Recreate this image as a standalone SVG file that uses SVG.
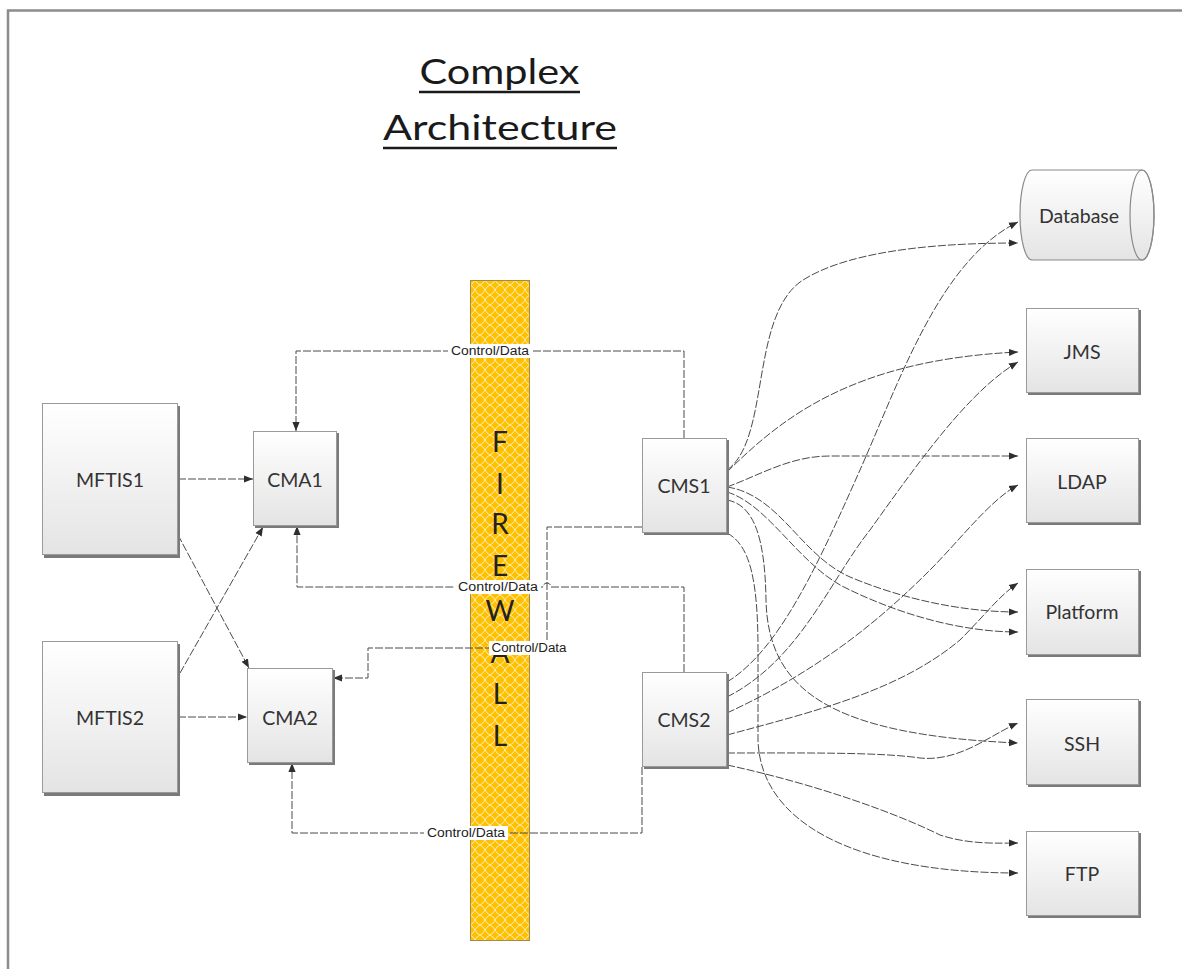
<svg xmlns="http://www.w3.org/2000/svg" width="1182" height="969" viewBox="0 0 1182 969">
  <style>
    .box { fill: url(#boxFill); stroke: #9a9a9a; stroke-width: 1; }
    .shadow { fill: #7a7a7a; }
    .lbl { font-family: Lato, "Liberation Sans", sans-serif; font-size: 19.5px; fill: #333333; text-anchor: middle; dominant-baseline: central; }
    .conn path { fill: none; stroke: #4a4a4a; stroke-width: 1; stroke-dasharray: 8 2; }
    .conn path.arrow { marker-end: url(#ah); }
    .tag rect { fill: #ffffff; }
    .tag text { font-family: "Liberation Sans", sans-serif; font-size: 12.5px; fill: #222; text-anchor: middle; dominant-baseline: central; }
    .fw { font-family: Lato, "Liberation Sans", sans-serif; font-size: 28px; fill: #222222; text-anchor: middle; }
    .title { font-family: Lato, "Liberation Sans", sans-serif; font-size: 35px; fill: #1a1a1a; text-anchor: middle; }
  </style>
  <defs>
    <linearGradient id="boxFill" x1="0" y1="0" x2="0" y2="1">
      <stop offset="0" stop-color="#ffffff"/>
      <stop offset="1" stop-color="#e4e4e4"/>
    </linearGradient>
    <pattern id="lattice" width="10" height="10" patternUnits="userSpaceOnUse" x="470" y="280">
      <rect width="10" height="10" fill="#FFC000"/>
      <path d="M0,5 Q3.5,3.5 5,0 Q6.5,3.5 10,5 Q6.5,6.5 5,10 Q3.5,6.5 0,5 Z" fill="none" stroke="#FFEBB0" stroke-width="1"/>
    </pattern>
    <marker id="ah" viewBox="0 0 10 10" refX="10" refY="5" markerWidth="9" markerHeight="9" markerUnits="userSpaceOnUse" orient="auto">
      <path d="M0,1 L10,5 L0,9 Z" fill="#2e2e2e"/>
    </marker>
  </defs>

  <rect width="1182" height="969" fill="#ffffff"/>
  <!-- page frame -->
  <path d="M8,969 L8,10.5 L1182,10.5" fill="none" stroke="#8c8c8c" stroke-width="2.5"/>

  <!-- heading -->
  <g id="title">
    <text class="title" x="499.5" y="84" textLength="160" lengthAdjust="spacingAndGlyphs">Complex</text>
    <line x1="419" y1="92" x2="580" y2="92" stroke="#1a1a1a" stroke-width="2.5"/>
    <text class="title" x="500" y="140" textLength="234" lengthAdjust="spacingAndGlyphs">Architecture</text>
    <line x1="383" y1="148" x2="617" y2="148" stroke="#1a1a1a" stroke-width="2.5"/>
  </g>

  <!-- firewall band -->
  <g id="firewall">
    <rect x="470.5" y="280.5" width="59" height="660" fill="url(#lattice)" stroke="#a08a50" stroke-width="1"/>
    <text class="fw" x="500" y="452">F</text>
    <text class="fw" x="500" y="494">I</text>
    <text class="fw" x="500" y="534">R</text>
    <text class="fw" x="500" y="576">E</text>
    <text class="fw" x="500" y="621">W</text>
    <text class="fw" x="500" y="663">A</text>
    <text class="fw" x="500" y="704">L</text>
    <text class="fw" x="500" y="746">L</text>
  </g>

  <!-- connectors -->
  <g id="connectors" class="conn">
    <path class="arrow" d="M178,479 L253,479"/>
    <path class="arrow" d="M178,717 L247,717"/>
    <path class="arrow" d="M178,535 L249,668"/>
    <path class="arrow" d="M180,673 L263,527"/>

    <path class="arrow" d="M684,438 L684,351 L296,351 L296,431"/>
    <path class="arrow" d="M684,672 L684,587 L551,587 A4,4 0 0 0 543,587 L297,587 L297,526"/>
    <path class="arrow" d="M642,527 L547,527 L547,648 L368,648 L368,678 L333,678"/>
    <path class="arrow" d="M642,767 L642,833 L292,833 L292,763"/>

    <!-- CMS1 fan-out -->
    <path class="arrow" d="M727,470 C770,440 750,320 800,282 C850,248 950,243 1018,243"/>
    <path class="arrow" d="M727,472 C780,420 850,360 1018,352"/>
    <path class="arrow" d="M727,487 C760,475 790,456 830,456 L1018,456"/>
    <path class="arrow" d="M727,487 C780,495 800,555 850,577 C900,598 960,612 1018,612"/>
    <path class="arrow" d="M727,492 C770,505 800,568 850,590 C900,614 960,632 1018,632"/>
    <path class="arrow" d="M727,500 C755,505 765,540 766,600 C768,690 830,735 1018,743"/>
    <path class="arrow" d="M727,533 C750,545 758,580 758,650 L758,740 C760,820 850,873 1018,873"/>

    <!-- CMS2 fan-out -->
    <path class="arrow" d="M727,682 C780,650 820,560 860,470 C900,380 940,260 1018,222"/>
    <path class="arrow" d="M727,697 C800,660 830,580 870,530 C920,460 970,390 1018,362"/>
    <path class="arrow" d="M727,713 C820,670 880,620 930,570 C960,540 990,500 1018,485"/>
    <path class="arrow" d="M727,735 C820,710 900,690 960,640 C985,615 1000,595 1018,583"/>
    <path class="arrow" d="M727,753 C800,753 880,752 920,758 C960,762 990,735 1018,723"/>
    <path class="arrow" d="M727,765 C820,785 900,815 940,835 C970,845 1000,843 1018,843"/>
  </g>

  <!-- connector captions -->
  <g id="captions" class="tag">
    <rect x="448" y="344" width="84" height="14"/>
    <text x="490" y="351" textLength="78" lengthAdjust="spacingAndGlyphs">Control/Data</text>
    <rect x="455" y="580" width="86" height="14"/>
    <text x="498" y="587" textLength="80" lengthAdjust="spacingAndGlyphs">Control/Data</text>
    <rect x="489" y="641" width="80" height="14"/>
    <text x="529" y="648" textLength="75" lengthAdjust="spacingAndGlyphs">Control/Data</text>
    <rect x="424" y="826" width="84" height="14"/>
    <text x="466" y="833" textLength="78" lengthAdjust="spacingAndGlyphs">Control/Data</text>
  </g>

  <!-- nodes -->
  <g id="mftis1">
    <rect class="shadow" x="44" y="406" width="136" height="152"/>
    <rect class="box" x="42.5" y="403.5" width="135" height="151"/>
    <text class="lbl" x="110" y="479">MFTIS1</text>
  </g>
  <g id="mftis2">
    <rect class="shadow" x="44" y="644" width="136" height="152"/>
    <rect class="box" x="42.5" y="641.5" width="135" height="151"/>
    <text class="lbl" x="110" y="717">MFTIS2</text>
  </g>
  <g id="cma1">
    <rect class="shadow" x="255" y="433" width="84" height="95"/>
    <rect class="box" x="253.5" y="431.5" width="83" height="94"/>
    <text class="lbl" x="295" y="479">CMA1</text>
  </g>
  <g id="cma2">
    <rect class="shadow" x="249" y="670" width="86" height="95"/>
    <rect class="box" x="247.5" y="668.5" width="85" height="94"/>
    <text class="lbl" x="290" y="717">CMA2</text>
  </g>
  <g id="cms1">
    <rect class="shadow" x="644" y="440" width="85" height="95"/>
    <rect class="box" x="642.5" y="438.5" width="84" height="94"/>
    <text class="lbl" x="684" y="485">CMS1</text>
  </g>
  <g id="cms2">
    <rect class="shadow" x="644" y="674" width="85" height="95"/>
    <rect class="box" x="642.5" y="672.5" width="84" height="94"/>
    <text class="lbl" x="684" y="719">CMS2</text>
  </g>
  <g id="database">
    <path d="M1032,170 L1142,170 A12,45 0 0 1 1142,260 L1032,260 A12,45 0 0 1 1032,170 Z" fill="url(#boxFill)" stroke="#8a8a8a" stroke-width="1.2"/>
    <ellipse cx="1142" cy="215" rx="12" ry="45" fill="none" stroke="#8a8a8a" stroke-width="1.2"/>
    <text class="lbl" x="1079" y="215">Database</text>
  </g>
  <g id="jms">
    <rect class="shadow" x="1028" y="310" width="113" height="85"/>
    <rect class="box" x="1026.5" y="308.5" width="112" height="84"/>
    <text class="lbl" x="1082" y="351">JMS</text>
  </g>
  <g id="ldap">
    <rect class="shadow" x="1028" y="440" width="113" height="85"/>
    <rect class="box" x="1026.5" y="438.5" width="112" height="84"/>
    <text class="lbl" x="1082" y="481">LDAP</text>
  </g>
  <g id="platform">
    <rect class="shadow" x="1028" y="571" width="113" height="86"/>
    <rect class="box" x="1026.5" y="569.5" width="112" height="85"/>
    <text class="lbl" x="1082" y="611">Platform</text>
  </g>
  <g id="ssh">
    <rect class="shadow" x="1028" y="701" width="113" height="86"/>
    <rect class="box" x="1026.5" y="699.5" width="112" height="85"/>
    <text class="lbl" x="1082" y="743">SSH</text>
  </g>
  <g id="ftp">
    <rect class="shadow" x="1028" y="833" width="113" height="85"/>
    <rect class="box" x="1026.5" y="831.5" width="112" height="84"/>
    <text class="lbl" x="1082" y="873">FTP</text>
  </g>
</svg>
